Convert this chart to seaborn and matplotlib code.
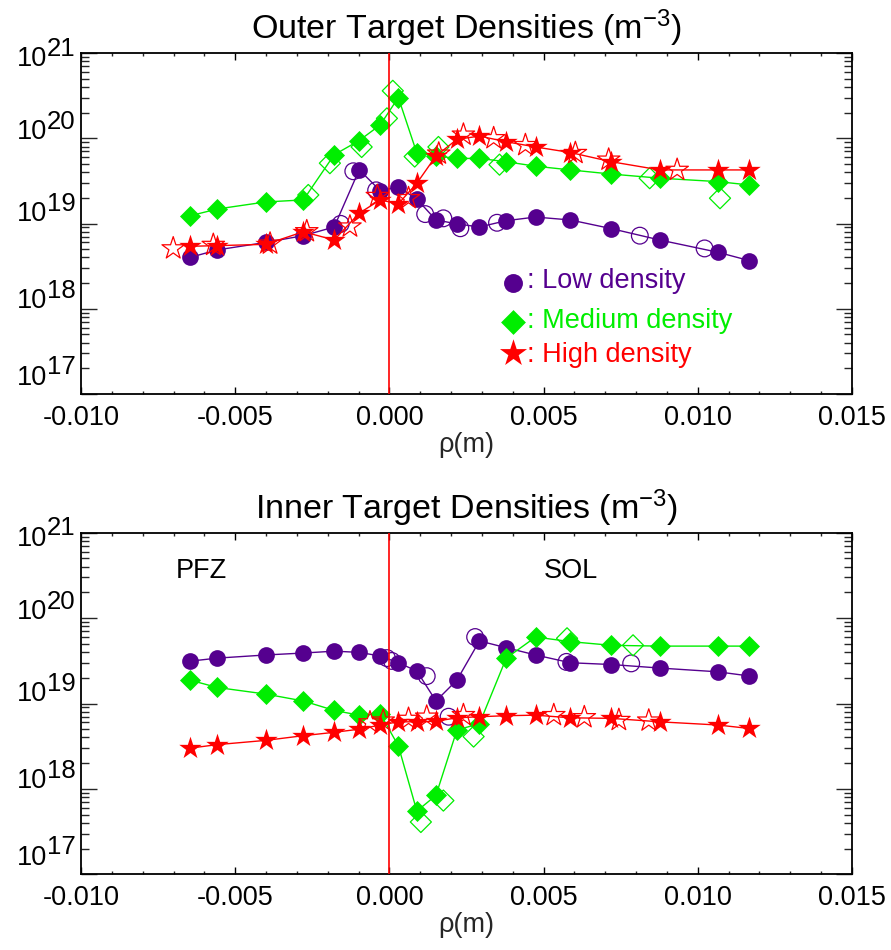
import numpy as np
import pandas as pd
import matplotlib
matplotlib.use("Agg")
import matplotlib.pyplot as plt
import seaborn as sns
from matplotlib.ticker import LogLocator, MultipleLocator, NullFormatter, FixedLocator
from matplotlib.transforms import blended_transform_factory, ScaledTranslation

# ---------------- data ----------------
rho = [-0.00647, -0.00558, -0.00401, -0.00279, -0.00179, -0.00098, -0.00030, 0.00029,
       0.00089, 0.00151, 0.00219, 0.00292, 0.00379, 0.00474, 0.00587, 0.00720,
       0.00877, 0.01065, 0.01167]

# Outer target (filled markers)
outer_low = [4.0e18, 4.9e18, 6.0e18, 7.2e18, 9.1e18, 4.27e19, 2.43e19, 2.68e19, 1.93e19,
             1.1e19, 9.9e18, 9.1e18, 1.08e19, 1.19e19, 1.1e19, 8.7e18, 6.4e18, 4.6e18, 3.67e18]
outer_med = [1.23e19, 1.48e19, 1.79e19, 1.89e19, 6.4e19, 9.4e19, 1.43e20, 3.0e20, 6.7e19,
             6.2e19, 5.8e19, 5.8e19, 5.3e19, 4.7e19, 4.25e19, 3.8e19, 3.4e19, 3.1e19, 2.83e19]
outer_high = [5.4e18, 5.5e18, 5.7e18, 8.0e18, 6.4e18, 1.32e19, 1.89e19, 1.7e19, 2.97e19,
              6.2e19, 9.7e19, 1.06e20, 9.1e19, 7.9e19, 6.8e19, 5.3e19, 4.25e19, 4.25e19, 4.25e19]

# Outer target (open markers)
outer_low_open_x = [-0.00158, -0.00117, -0.00043, 0.00116, 0.00175, 0.00230, 0.00349, 0.00812, 0.01022]
outer_low_open_y = [9.9e18, 4.1e19, 2.45e19, 1.29e19, 1.15e19, 8.8e18, 1.02e19, 7.2e18, 5.1e18]
outer_med_open_x = [-0.00263, -0.00193, -0.00090, -0.00008, 0.00011, 0.00082, 0.00159, 0.00357, 0.00844, 0.01072]
outer_med_open_y = [2.16e19, 5.1e19, 7.9e19, 1.71e20, 3.6e20, 6.1e19, 7.9e19, 4.9e19, 3.4e19, 1.98e19]
outer_high_open_x = [-0.00701, -0.00571, -0.00387, -0.00268, -0.00128, -0.00039, 0.00062, 0.00160,
                     0.00240, 0.00338, 0.00441, 0.00603, 0.00711, 0.00933]
outer_high_open_y = [5.1e18, 5.6e18, 5.8e18, 8.1e18, 9.2e18, 2.1e19, 1.98e19, 6.6e19,
                     1.1e20, 1.0e20, 8.3e19, 6.7e19, 5.6e19, 4.25e19]

# Inner target (filled markers)
inner_low = [3.13e19, 3.4e19, 3.7e19, 3.9e19, 4.1e19, 3.97e19, 3.6e19, 3.0e19, 2.4e19,
             1.07e19, 1.88e19, 5.4e19, 4.5e19, 3.7e19, 3.0e19, 2.86e19, 2.6e19, 2.35e19, 2.1e19]
inner_med = [1.88e19, 1.54e19, 1.29e19, 1.07e19, 8.3e18, 7.3e18, 7.6e18, 3.2e18, 5.5e17,
             8.4e17, 4.9e18, 5.8e18, 3.4e19, 6.0e19, 5.3e19, 4.8e19, 4.7e19, 4.7e19, 4.7e19]
inner_high = [3.0e18, 3.3e18, 3.7e18, 4.2e18, 4.6e18, 5.0e18, 5.6e18, 6.1e18, 6.1e18,
              6.2e18, 6.8e18, 7.0e18, 7.2e18, 7.3e18, 6.8e18, 6.7e18, 6.1e18, 5.6e18, 5.1e18]

# Inner target (open markers)
inner_low_open_x = [-0.00008, 0.00008, 0.00121, 0.00192, 0.00278, 0.00574, 0.00784]
inner_low_open_y = [3.4e19, 3.15e19, 2.09e19, 7.0e18, 6.0e19, 3.07e19, 2.95e19]
inner_med_open_x = [0.00102, 0.00175, 0.00273, 0.00576, 0.00790]
inner_med_open_y = [4.1e17, 7.3e17, 4.1e18, 5.8e19, 4.8e19]
inner_high_open_x = [-0.00063, -0.00020, 0.00062, 0.00121, 0.00240, 0.00533, 0.00632, 0.00744, 0.00841]
inner_high_open_y = [6.0e18, 6.3e18, 6.6e18, 7.0e18, 7.3e18, 7.3e18, 6.9e18, 6.4e18, 6.3e18]

series_names = ["Low density", "Medium density", "High density"]
x_ticks = [-0.010, -0.005, 0.000, 0.005, 0.010, 0.015]
x_tick_labels = ["-0.010", "-0.005", "0.000", "0.005", "0.010", "0.015"]
y_exponents = [17, 18, 19, 20, 21]
titles = ["Outer Target Densities (m$^{\\mathregular{-3}}$)",
          "Inner Target Densities (m$^{\\mathregular{-3}}$)"]
region_labels = ["PFZ", "SOL"]
region_x = [-0.0061, 0.0059]

# ---------------- style ----------------
sns.set_theme(style="white")
plt.rcParams["font.family"] = ["Liberation Sans", "DejaVu Sans"]
plt.rcParams["mathtext.fontset"] = "custom"
plt.rcParams["mathtext.rm"] = "Liberation Sans"
plt.rcParams["mathtext.it"] = "Liberation Sans:italic"
plt.rcParams["mathtext.bf"] = "Liberation Sans:bold"
plt.rcParams["axes.edgecolor"] = "black"
plt.rcParams["text.color"] = "black"

colors = ["#55008F", "#00EE00", "#FF0000"]
markers = ["o", "D", "*"]
sizes = [145, 115, 290]
legend_sizes = [185, 160, 420]
FS = 19.5
# vertical nudge (inches) of each decade label, mimicking the original placement
label_nudge = [0.165, 0.075, 0.095, 0.06, -0.06]

fig = plt.figure(figsize=(8.91, 9.50), dpi=100)
ax_top = fig.add_axes([0.09091, 0.58526, 0.86532, 0.35895])
ax_bot = fig.add_axes([0.09091, 0.07968, 0.86532, 0.35958])

panels = [
    (ax_top, [outer_low, outer_med, outer_high],
     [(outer_low_open_x, outer_low_open_y), (outer_med_open_x, outer_med_open_y),
      (outer_high_open_x, outer_high_open_y)]),
    (ax_bot, [inner_low, inner_med, inner_high],
     [(inner_low_open_x, inner_low_open_y), (inner_med_open_x, inner_med_open_y),
      (inner_high_open_x, inner_high_open_y)]),
]

for i, (ax, filled, opened) in enumerate(panels):
    ax.set_yscale("log")
    for k in range(3):
        df = pd.DataFrame({"rho": rho, "n": filled[k]})
        sns.lineplot(data=df, x="rho", y="n", ax=ax, color=colors[k], lw=1.0,
                     sort=True, estimator=None, legend=False, zorder=2 + k)
        sns.scatterplot(data=df, x="rho", y="n", ax=ax, color=colors[k], marker=markers[k],
                        s=sizes[k], linewidth=0, legend=False, zorder=2.5 + k)
        dfo = pd.DataFrame({"rho": opened[k][0], "n": opened[k][1]})
        sns.scatterplot(data=dfo, x="rho", y="n", ax=ax, marker=markers[k], s=sizes[k],
                        facecolors="none", edgecolor=colors[k], linewidth=0.9,
                        legend=False, zorder=2.6 + k)
    ax.axvline(0.0, color="#FF0000", lw=1.2, zorder=10)

    ax.set_xlim(-0.010, 0.015)
    ax.set_ylim(1e17, 1e21)
    ax.xaxis.set_major_locator(FixedLocator(x_ticks))
    ax.set_xticklabels(x_tick_labels, fontsize=FS)
    ax.xaxis.set_minor_locator(MultipleLocator(0.001))
    ax.yaxis.set_major_locator(FixedLocator([10.0 ** e for e in y_exponents]))
    ax.yaxis.set_minor_locator(LogLocator(base=10, subs=np.arange(2, 10) * 1.0, numticks=40))
    ax.yaxis.set_major_formatter(NullFormatter())
    ax.yaxis.set_minor_formatter(NullFormatter())

    ax.tick_params(axis="x", which="major", direction="in", length=5, width=1.0,
                   top=True, bottom=True, pad=8, colors="black")
    ax.tick_params(axis="x", which="minor", direction="in", length=2.5, width=1.0,
                   top=True, bottom=True)
    ax.tick_params(axis="y", which="major", direction="in", length=11.3, width=1.0,
                   left=True, right=True)
    ax.tick_params(axis="y", which="minor", direction="in", length=5.8, width=1.0,
                   left=True, right=True)
    for sp in ax.spines.values():
        sp.set_linewidth(1.3)
        sp.set_color("black")

    ax.set_xlabel("\u03c1(m)", fontsize=FS)
    ax.xaxis.set_label_coords(0.5, -0.11)
    ax.set_ylabel("")
    ax.set_title(titles[i], fontsize=24.5, pad=10)

    # y tick labels 10^n
    trans = blended_transform_factory(ax.transAxes, ax.transData)
    for e, dy in zip(y_exponents, label_nudge):
        t1 = trans + ScaledTranslation(-0.34, dy, fig.dpi_scale_trans)
        ax.text(0, 10.0 ** e, "10", transform=t1, ha="right", va="center",
                fontsize=FS, clip_on=False)
        t2 = trans + ScaledTranslation(-0.345, dy + 0.105, fig.dpi_scale_trans)
        ax.text(0, 10.0 ** e, str(e), transform=t2, ha="left", va="center",
                fontsize=18.5, clip_on=False)

# legend in top panel
leg_marker_y = [0.326, 0.212, 0.121]
leg_text_y = [0.310, 0.193, 0.0947]
for k in range(3):
    ax_top.scatter([0.560], [leg_marker_y[k]], transform=ax_top.transAxes, marker=markers[k],
                   s=legend_sizes[k], color=colors[k], linewidths=0, zorder=20, clip_on=False)
    ax_top.text(0.579, leg_text_y[k], ": " + series_names[k], transform=ax_top.transAxes,
                color=colors[k], fontsize=FS, ha="left", va="baseline")

# region labels in bottom panel
for lab, xr in zip(region_labels, region_x):
    ax_bot.text(xr, 10 ** 20.469, lab, fontsize=FS, ha="center", va="baseline")

fig.savefig("out.png", dpi=100, facecolor="white")
